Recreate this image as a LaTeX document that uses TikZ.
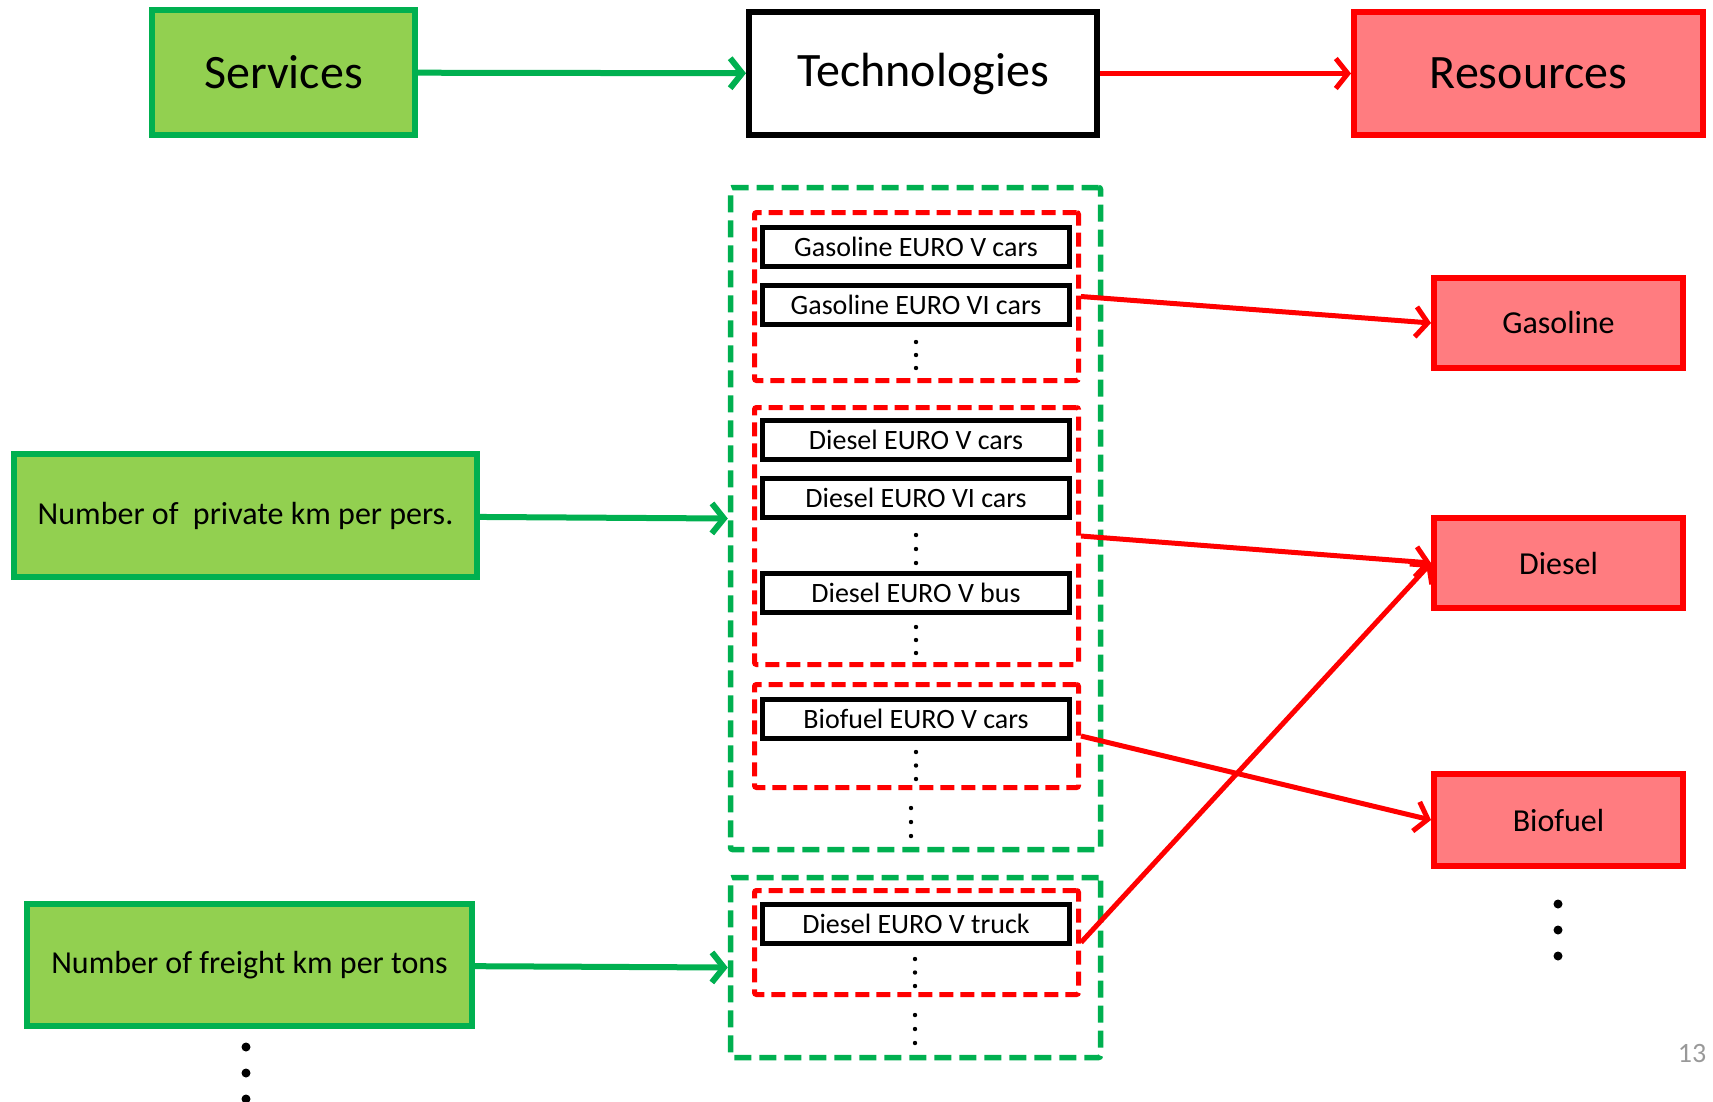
\documentclass[tikz,border=0pt]{standalone}
\usepackage{fontspec}
\setmainfont{Carlito}
\usepackage{tikz}
\usetikzlibrary{arrows.meta}

\definecolor{svcline}{HTML}{00B050}
\definecolor{svcfill}{HTML}{92D050}
\definecolor{resline}{HTML}{FF0000}
\definecolor{resfill}{HTML}{FF7C80}

\tikzset{
    headtext/.style={font=\fontsize{48}{52}\selectfont},
    smalltext/.style={font=\fontsize{32}{36}\selectfont},
    svcbox/.style={rectangle, draw=svcline, fill=svcfill, line width=6pt, inner sep=0pt},
    resbox/.style={rectangle, draw=resline, fill=resfill, line width=6pt, inner sep=0pt},
    techhead/.style={rectangle, draw=black, fill=white, line width=6pt, inner sep=0pt, headtext},
    techbox/.style={rectangle, draw=black, line width=5pt, inner sep=0pt, minimum width=307pt, minimum height=39pt, font=\fontsize{28}{32}\selectfont},
    grpgreen/.style={rectangle, draw=svcline, line width=5.5pt, dash pattern=on 17pt off 8pt, rounded corners=2pt},
    grpred/.style={rectangle, draw=resline, line width=5pt, dash pattern=on 14pt off 7pt, rounded corners=2pt},
    greenarrow/.style={-{Straight Barb[length=12pt,width=30pt]}, draw=svcline, line width=6pt},
    redarrow/.style={-{Straight Barb[length=12pt,width=30pt]}, draw=resline, line width=5pt}
}

% three dots in a column
\newcommand{\dotcol}[4]{%
    \foreach \k in {0,1,2} \fill (#1,#2+\k*#3) circle[radius=#4];}

\begin{document}
\begin{tikzpicture}[x=1pt, y=-1pt]
    \useasboundingbox (0,0) rectangle (1713,1101);

    % Top row
    \node[svcbox, headtext, minimum width=263pt, minimum height=125pt] (services) at (283.5,72.5) {Services};
    \node[techhead, minimum width=348pt, minimum height=123pt] (tech) at (923,73.5) {Technologies};
    \node[resbox, headtext, minimum width=349pt, minimum height=123pt] (resources) at (1528.5,73.5) {Resources};

    \draw[greenarrow] (services) -- (tech);
    \draw[redarrow] (tech) -- (resources);

    % Service demands
    \node[svcbox, smalltext, minimum width=463pt, minimum height=123pt] (privkm) at (245.5,515.5) {Number of~ private km per pers.};
    \node[svcbox, smalltext, minimum width=445pt, minimum height=122pt] (freightkm) at (249.5,965) {Number of freight km per tons};
    \dotcol{246}{1047}{26}{4.5pt}

    % Technology groups
    \node[grpgreen, minimum width=370pt, minimum height=662pt] (cargrp) at (915.5,518.5) {};
    \node[grpgreen, minimum width=370pt, minimum height=180pt] (truckgrp) at (915.5,967.5) {};
    \node[grpred, minimum width=324pt, minimum height=168pt] (gasgrp) at (916.5,296.5) {};
    \node[grpred, minimum width=324pt, minimum height=257pt] (diegrp) at (916.5,536) {};
    \node[grpred, minimum width=324pt, minimum height=103pt] (biogrp) at (916.5,736) {};
    \node[grpred, minimum width=324pt, minimum height=104pt] (trkgrp) at (916.5,942.5) {};

    % Technologies
    \node[techbox] (gaseuro5) at (916,247) {Gasoline EURO V cars};
    \node[techbox] (gaseuro6) at (916,305) {Gasoline EURO VI cars};
    \node[techbox] (dieeuro5) at (916,440) {Diesel EURO V cars};
    \node[techbox] (dieeuro6) at (916,497.5) {Diesel EURO VI cars};
    \node[techbox] (diebus) at (916,592.5) {Diesel EURO V bus};
    \node[techbox] (bioeuro5) at (916,718.5) {Biofuel EURO V cars};
    \node[techbox] (dietruck) at (916,923.5) {Diesel EURO V truck};

    \dotcol{916}{342}{13}{2.2pt}
    \dotcol{916}{535}{14}{2.2pt}
    \dotcol{916}{627}{13}{2.2pt}
    \dotcol{916}{752}{13.5}{2.2pt}
    \dotcol{911}{808}{14}{2.2pt}
    \dotcol{915}{959}{13.5}{2.2pt}
    \dotcol{915}{1015}{14}{2.2pt}

    % Resources
    \node[resbox, smalltext, minimum width=249pt, minimum height=90pt] (gasoline) at (1558.5,323) {Gasoline};
    \node[resbox, smalltext, minimum width=249pt, minimum height=90pt] (diesel) at (1558.5,563) {Diesel};
    \node[resbox, smalltext, minimum width=249pt, minimum height=92pt] (biofuel) at (1558.5,820) {Biofuel};
    \dotcol{1558}{904}{26}{4.5pt}

    % Flows
    \draw[greenarrow] (privkm) -- (cargrp.west);
    \draw[greenarrow] (freightkm) -- (truckgrp.west);
    \draw[redarrow] (gasgrp.east) -- (gasoline.west);
    \draw[redarrow] (diegrp.east) -- (diesel.west);
    \draw[redarrow] (biogrp.east) -- (biofuel.west);
    \draw[redarrow] (trkgrp.east) -- (diesel.west);

    \node[text=black!40, font=\fontsize{28}{30}\selectfont] (pagenum) at (1692,1053) {13};
\end{tikzpicture}
\end{document}
